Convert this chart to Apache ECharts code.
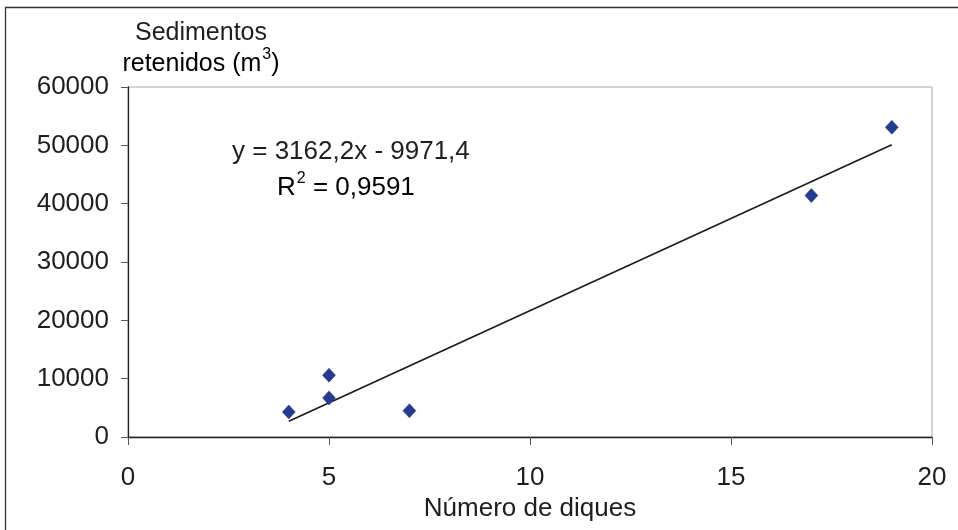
<!DOCTYPE html>
<html>
<head>
<meta charset="utf-8">
<script src="https://cdn.jsdelivr.net/npm/echarts@6/dist/echarts.min.js"></script>
<style>html,body{margin:0;padding:0;background:#fff;}#c{width:958px;height:530px;}</style>
</head>
<body>
<div id="c"></div>
<script>
var diques = [4, 5, 5, 7, 17, 19];
var sedimentos = [4300, 10600, 6700, 4500, 41400, 53100];
var trendX = [4, 19];
var trendY = [2700, 50100];
var xTicks = [0, 5, 10, 15, 20];
var yTicks = [0, 10000, 20000, 30000, 40000, 50000, 60000];
var yTitle = ['Sedimentos', 'retenidos (m', '3', ')'];
var xTitle = 'Número de diques';
var eqLines = ['y = 3162,2x - 9971,4', 'R', '2', ' = 0,9591'];

var font = 'Liberation Sans, Arial, sans-serif';
var txt = '#1e1e1e';
var chart = echarts.init(document.getElementById('c'), null, {renderer: 'canvas'});
var pts = diques.map(function (x, i) { return [x, sedimentos[i]]; });
var tr = trendX.map(function (x, i) { return [x, trendY[i]]; });
function richSup(sz) {
  return {
    a: {fontFamily: font, fontSize: sz, color: txt, lineHeight: 30, verticalAlign: 'bottom'},
    s: {fontFamily: font, fontSize: 16, color: txt, lineHeight: 30, verticalAlign: 'top', padding: [0, 0, 0, 1]}
  };
}
chart.setOption({
  animation: false,
  backgroundColor: '#fff',
  grid: {left: 128, right: 26, top: 87, bottom: 93, show: true, borderColor: '#a8a8a8', borderWidth: 1},
  xAxis: {
    type: 'value', min: xTicks[0], max: xTicks[xTicks.length - 1], interval: 5,
    name: xTitle, nameLocation: 'middle', nameGap: 57,
    nameTextStyle: {fontFamily: font, fontSize: 26, color: txt},
    axisLine: {show: true, onZero: false, lineStyle: {color: '#222', width: 1.3}},
    axisTick: {show: true, inside: false, length: 8, lineStyle: {color: '#555'}},
    axisLabel: {fontFamily: font, fontSize: 26, color: txt, margin: 28, formatter: function (v) { return String(v); }},
    splitLine: {show: false}
  },
  yAxis: {
    type: 'value', min: yTicks[0], max: yTicks[yTicks.length - 1], interval: 10000,
    axisLine: {show: true, onZero: false, lineStyle: {color: '#222', width: 1.3}},
    axisTick: {show: true, inside: false, length: 7, lineStyle: {color: '#555'}},
    axisLabel: {fontFamily: font, fontSize: 26, color: txt, margin: 19, formatter: function (v) { return String(v); }},
    splitLine: {show: false}
  },
  series: [
    {
      type: 'line', data: tr, symbol: 'none', silent: true,
      lineStyle: {color: '#1a1a1a', width: 1.6}, z: 2
    },
    {
      type: 'scatter', data: pts, symbol: 'diamond', symbolSize: [13, 14],
      itemStyle: {color: '#263b8e', opacity: 1, borderColor: '#1f3485', borderWidth: 0.5}, z: 3
    }
  ],
  graphic: [
    {type: 'rect', shape: {x: 5.5, y: 7.5, width: 1000, height: 1000}, style: {fill: 'none', stroke: '#333', lineWidth: 1.3}, silent: true},
    {type: 'text', x: 201, y: 33, style: {text: yTitle[0], font: '25px ' + font, fill: txt, textAlign: 'center', textVerticalAlign: 'middle'}},
    {type: 'text', x: 201, y: 62, style: {text: '{a|' + yTitle[1] + '}{s|' + yTitle[2] + '}{a|' + yTitle[3] + '}', rich: richSup(25), textAlign: 'center', textVerticalAlign: 'middle'}},
    {type: 'text', x: 232, y: 152, style: {text: eqLines[0], font: '26px ' + font, fill: txt, textAlign: 'left', textVerticalAlign: 'middle'}},
    {type: 'text', x: 277, y: 186, style: {text: '{a|' + eqLines[1] + '}{s|' + eqLines[2] + '}{a|' + eqLines[3] + '}', rich: richSup(26), textAlign: 'left', textVerticalAlign: 'middle'}}
  ]
});
</script>
</body>
</html>
